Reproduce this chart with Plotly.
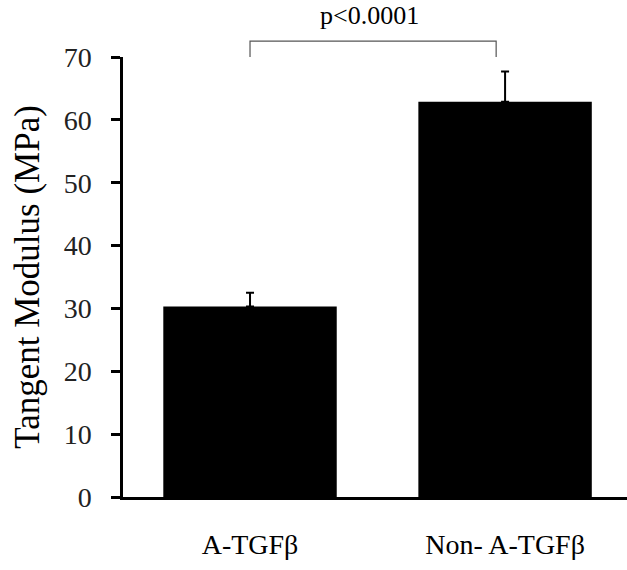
import plotly.graph_objects as go

categories = ["A-TGFβ", "Non- A-TGFβ"]
means = [30.3, 62.9]
errors_up = [2.2, 4.8]
y_ticks = [0, 10, 20, 30, 40, 50, 60, 70]
p_label = "p<0.0001"

FONT = "Liberation Serif, Times New Roman, serif"

fig = go.Figure()
fig.add_trace(go.Bar(
    x=[0, 1], y=means,
    width=0.68,
    marker=dict(color="black", line=dict(width=0)),
    error_y=dict(type="data", array=errors_up, arrayminus=[0, 0], symmetric=False,
                 color="black", thickness=2, width=4),
    showlegend=False,
))

# significance bracket
fig.add_shape(type="path", xref="x", yref="paper",
              path="M 0,1.0 L 0,1.036 L 0.965,1.036 L 0.965,1.0",
              line=dict(color="#555555", width=1.2))
fig.add_annotation(x=0.47, y=1.095, xref="x", yref="paper", text=p_label,
                   showarrow=False, font=dict(family=FONT, size=26, color="black"),
                   xanchor="center", yanchor="middle")

fig.update_layout(
    width=627, height=570,
    margin=dict(l=123, r=0, t=57, b=73),
    paper_bgcolor="white", plot_bgcolor="white",
    bargap=0.3,
)
fig.update_xaxes(
    range=[-0.498, 1.478],
    tickvals=[0, 1], ticktext=categories,
    showline=True, linecolor="black", linewidth=2.5,
    ticks="", showgrid=False, zeroline=False,
    tickfont=dict(family=FONT, size=28, color="black"),
    ticklabelstandoff=21,
)
fig.update_yaxes(
    range=[0, 70],
    tickvals=y_ticks,
    showline=True, linecolor="black", linewidth=2.5,
    ticks="outside", ticklen=9, tickwidth=2.5, tickcolor="black",
    showgrid=False, zeroline=False,
    tickfont=dict(family=FONT, size=28, color="#222222"),
    ticklabelstandoff=14,
    title=dict(text="Tangent Modulus (MPa)", font=dict(family=FONT, size=35, color="black"),
               standoff=14),
)

fig.write_html("out.html", config={"displayModeBar": False},
               post_script="document.body.style.margin='0px';document.body.style.padding='0px';")
